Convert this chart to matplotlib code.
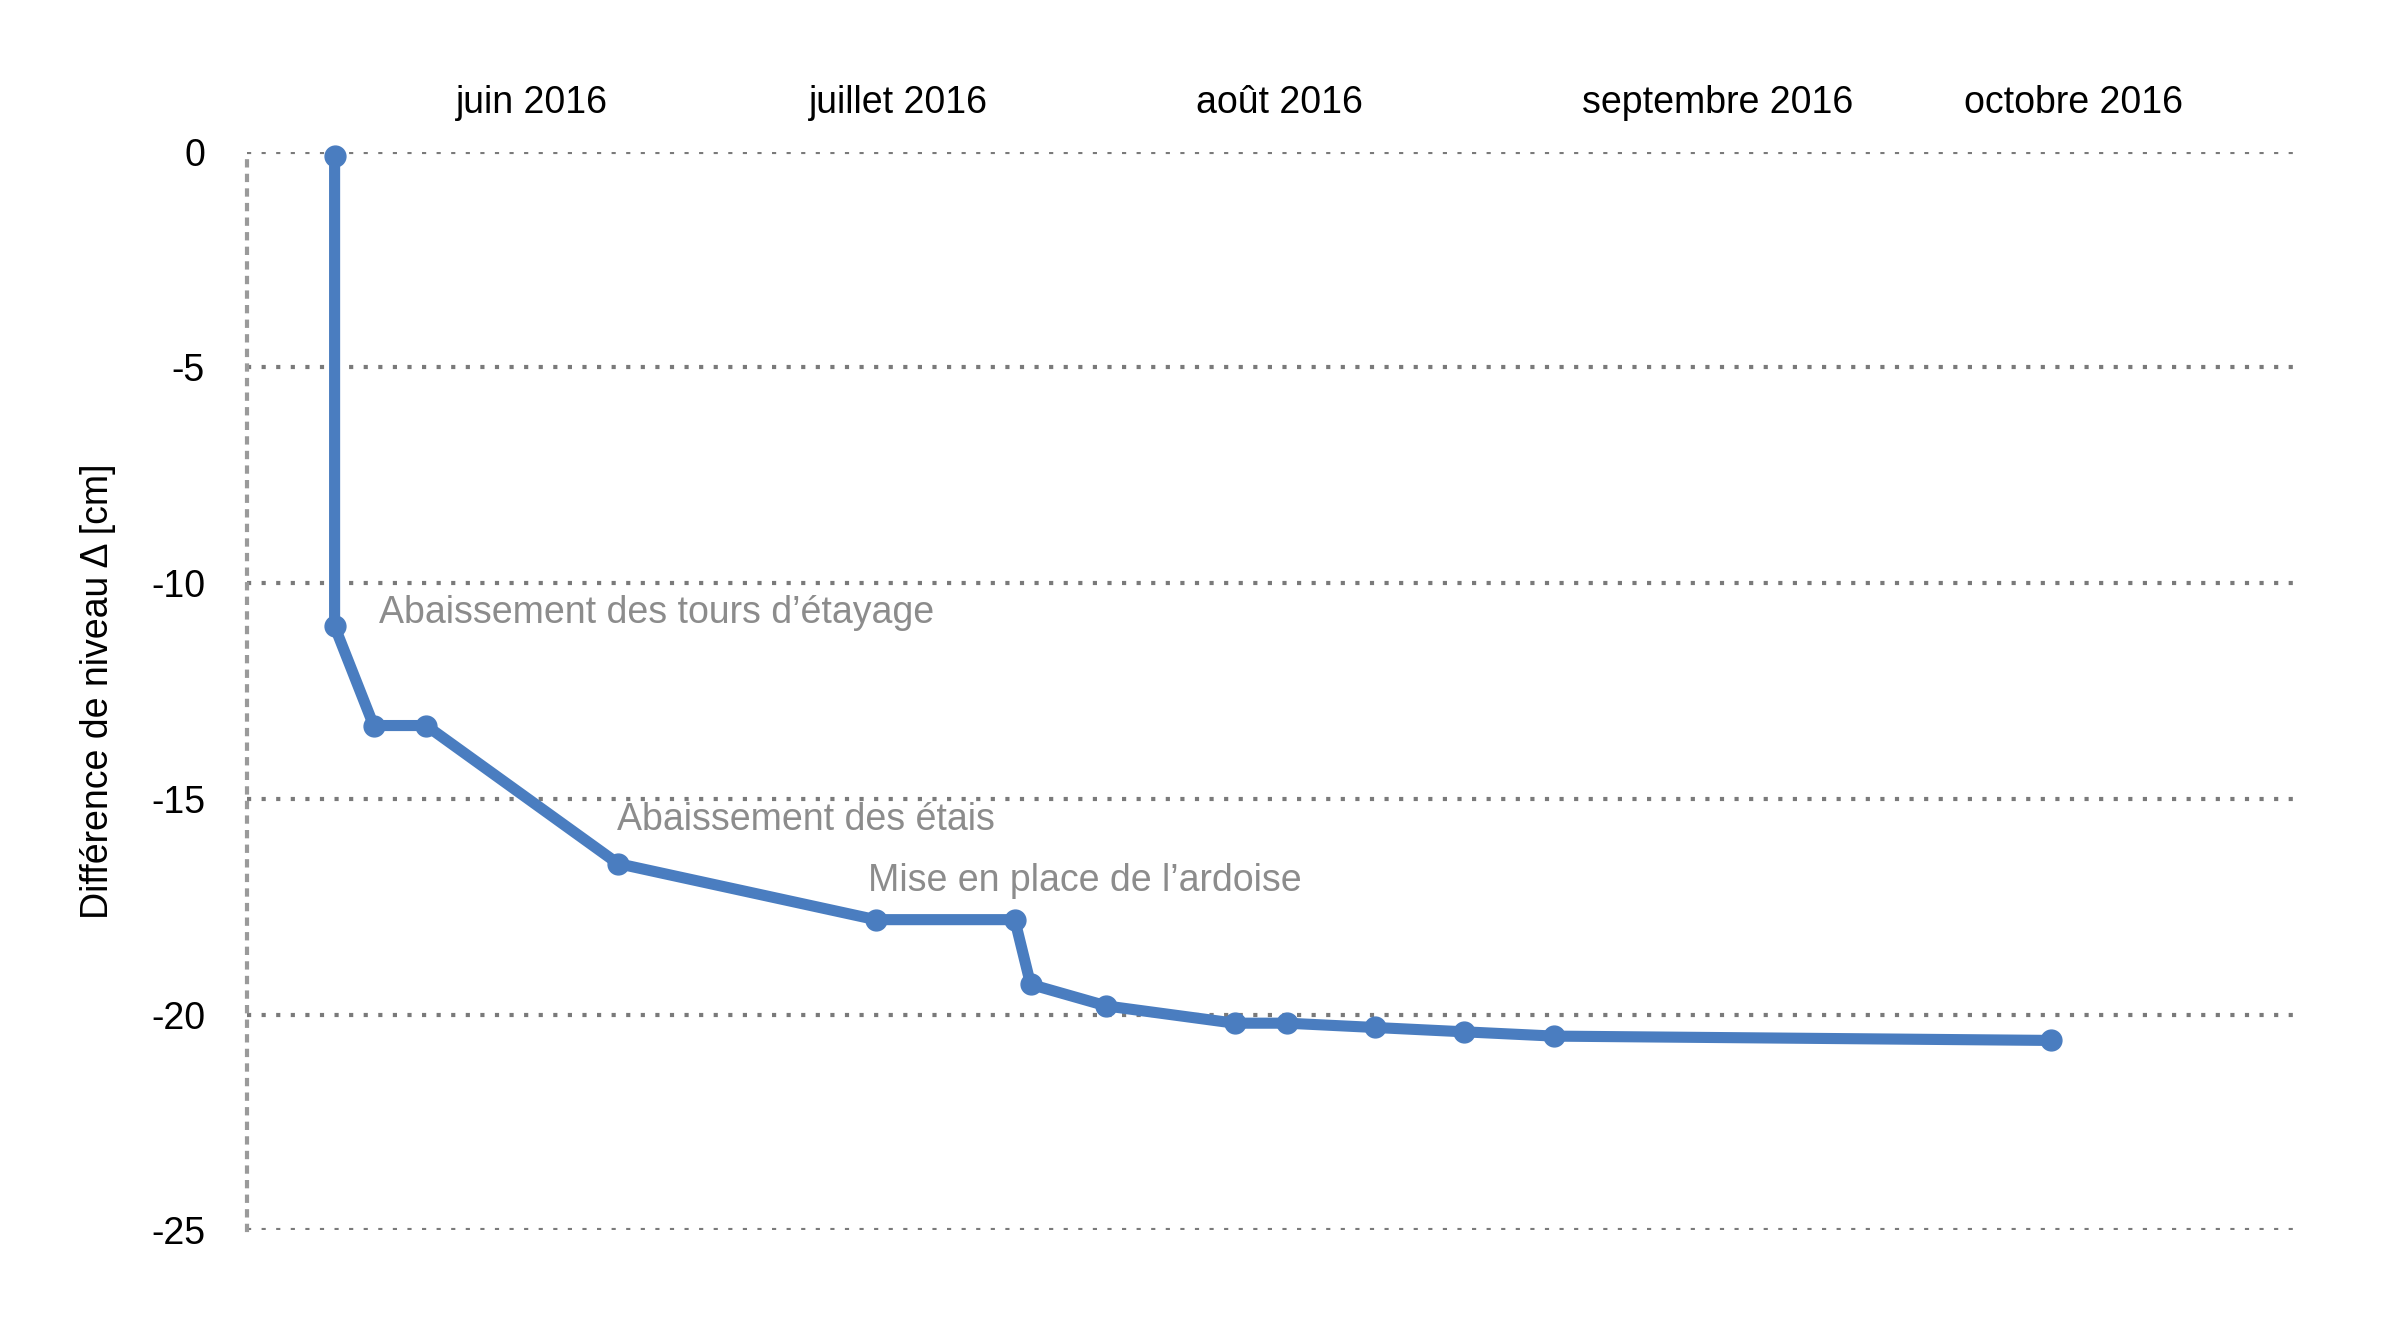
import matplotlib
matplotlib.use("Agg")
import matplotlib.pyplot as plt

plt.rcParams["font.family"] = ["Liberation Sans", "DejaVu Sans"]

# days since the start of the x axis
days = [7.2, 7.2, 10.4, 14.7, 30.4, 51.5, 62.9, 64.2, 70.4, 80.9, 85.2, 92.4, 99.7, 107.1, 147.8]
delta_cm = [-0.1, -11.0, -13.3, -13.3, -16.5, -17.8, -17.8, -19.3, -19.8, -20.2, -20.2,
            -20.3, -20.4, -20.5, -20.6]

month_pos = [23.4, 53.4, 84.6, 120.5, 149.6]
month_labels = ["juin 2016", "juillet 2016", "août 2016", "septembre 2016", "octobre 2016"]

notes = [
    (10.8, -10.7, "Abaissement des tours d’étayage"),
    (30.3, -15.5, "Abaissement des étais"),
    (50.9, -16.9, "Mise en place de l’ardoise"),
]

fig = plt.figure(figsize=(23.95, 13.2), dpi=100)
ax = fig.add_axes([0.103, 0.068, 0.855, 0.817])
ax.plot(days, delta_cm, color="#4a7dc0", lw=8, marker="o", ms=15, clip_on=False,
        solid_joinstyle="round", zorder=3)

ax.set_xlim(0, 167.7)
ax.set_ylim(-25, 0)
ax.set_yticks([0, -5, -10, -15, -20, -25])
ax.set_yticklabels(["0", "-5", "-10", "-15", "-20", "-25"])
ax.grid(axis="y", color="#7a7a7a", ls=(0, (1, 2.5)), lw=3)
for s in ["top", "right", "bottom"]:
    ax.spines[s].set_visible(False)
ax.spines["left"].set_linestyle((0, (1, 2.5)))
ax.spines["left"].set_color("#9a9a9a")
ax.spines["left"].set_linewidth(3)
ax.tick_params(axis="y", length=0, labelsize=27, pad=30)
ax.set_xticks([])

top = ax.secondary_xaxis("top")
top.set_xticks(month_pos)
top.set_xticklabels(month_labels)
top.tick_params(length=0, labelsize=27, pad=22)
top.spines["top"].set_visible(False)

for x, y, t in notes:
    ax.text(x, y, t, color="#8c8c8c", fontsize=27, va="center", ha="left")

ax.set_ylabel("Différence de niveau Δ [cm]", fontsize=27, labelpad=25)

fig.savefig("out.png")
